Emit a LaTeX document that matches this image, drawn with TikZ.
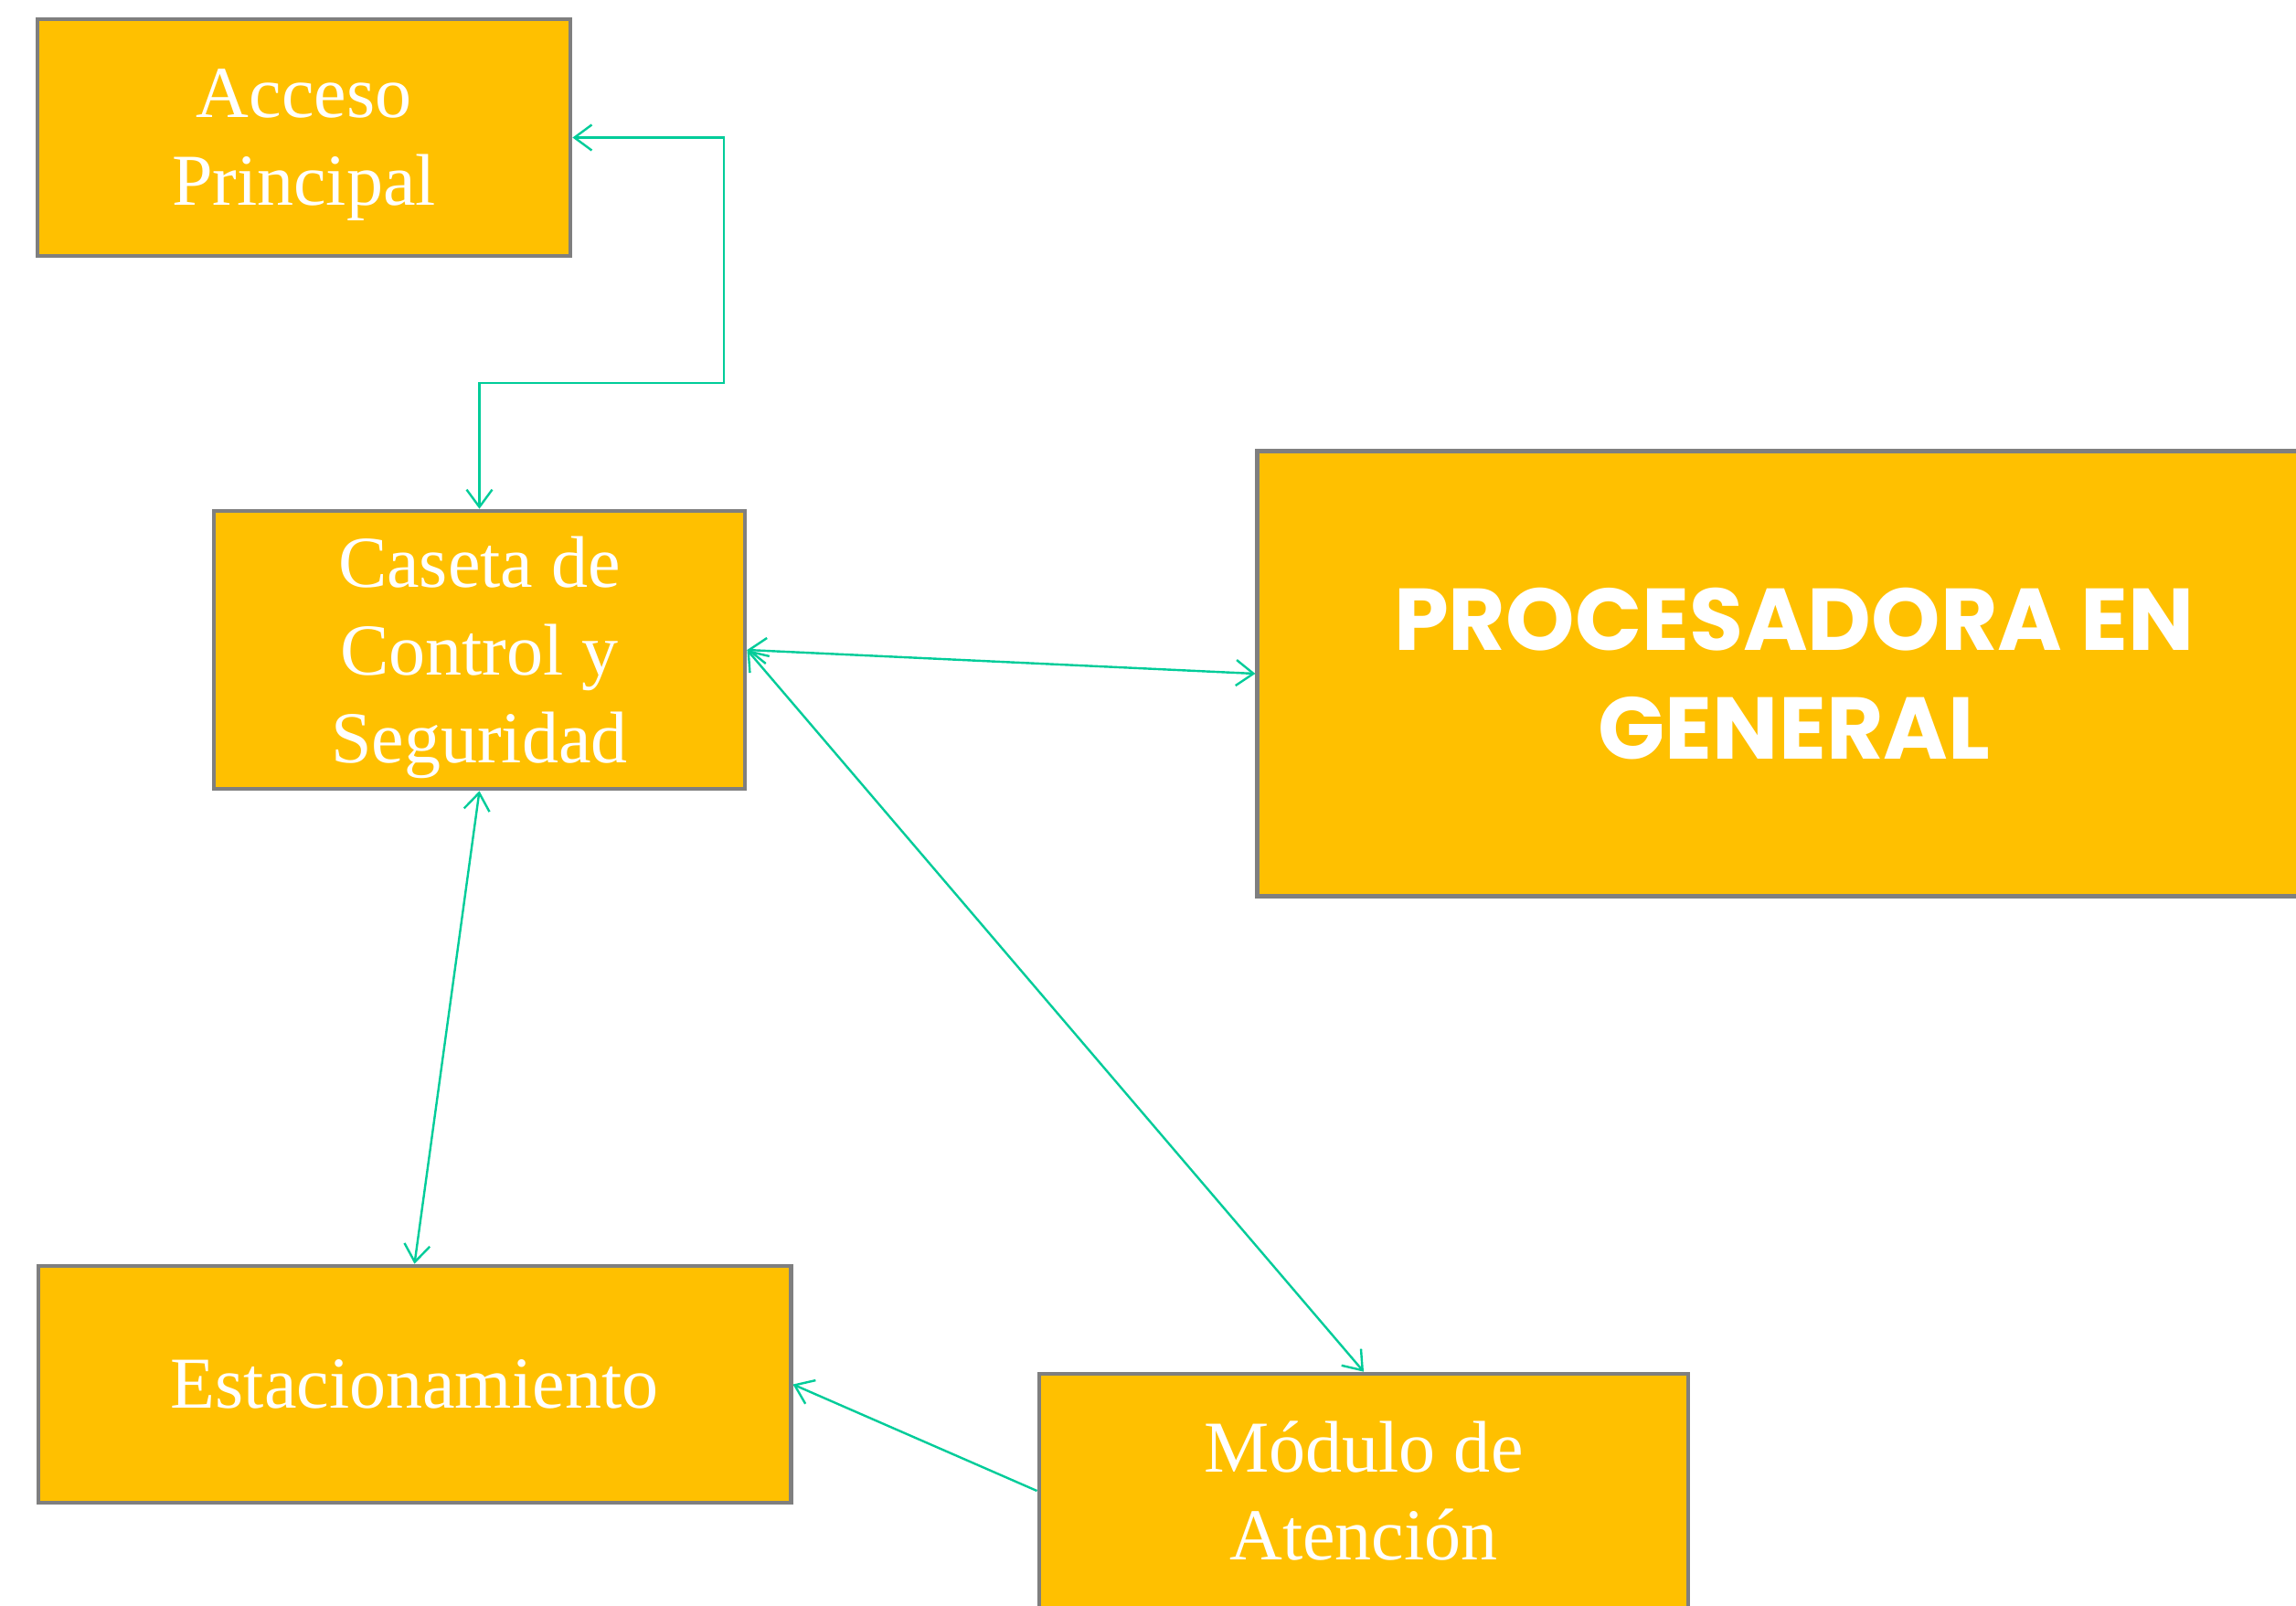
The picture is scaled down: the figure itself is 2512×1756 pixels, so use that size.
\documentclass[tikz,border=0pt]{standalone}
\usepackage{fontspec}
\setmainfont{Liberation Serif}
\newfontfamily\procfont{Poppins}
\usetikzlibrary{arrows.meta}
\definecolor{boxfill}{HTML}{FFC000}
\definecolor{boxline}{HTML}{7F7F7F}
\definecolor{conncol}{HTML}{00CC99}
\begin{document}
\begin{tikzpicture}[x=0.01cm,y=-0.01cm,
  box/.style={draw=boxline, line width=0.045cm, fill=boxfill, text=white, inner sep=0pt, align=center,
    font=\fontsize{22.76pt}{27.3pt}\selectfont},
  conn/.style={draw=conncol, line width=0.024cm,
    arrows={Straight Barb[length=0.19cm,width=0.28cm]-Straight Barb[length=0.19cm,width=0.28cm]}},
  connend/.style={draw=conncol, line width=0.024cm,
    arrows={-Straight Barb[length=0.19cm,width=0.28cm]}}]
\clip (0,0) rectangle (2512,1756);
\node[box, text depth=0pt, minimum width=5.83cm, minimum height=2.59cm] (acceso) at (332.5,150.5) {Acceso\\Principal};
\node[box, text depth=0pt, minimum width=5.81cm, minimum height=3.04cm] (caseta) at (524.5,711) {Caseta de\\Control y\\Seguridad};
\node[box, minimum width=11.74cm, minimum height=4.87cm,
  font=\procfont\bfseries\fontsize{27.3pt}{33.9pt}\selectfont] (proc) at (1963,737) {PROCESADORA EN\\GENERAL};
\node[box, minimum width=8.23cm, minimum height=2.59cm] (estac) at (453.5,1514.5) {Estacionamiento};
\node[box, minimum width=7.10cm, minimum height=2.56cm] (modulo) at (1492,1631) {Módulo de\\Atención};
\coordinate (elbow) at (792,419);
\draw[conn] (acceso.east) -| (elbow) -| (caseta.north);
\draw[conn] (caseta.east) -- (proc.west);
\draw[conn] (caseta.east) -- (modulo.north);
\draw[conn] (caseta.south) -- (estac.north);
\draw[connend] (modulo.west) -- (estac.east);
\end{tikzpicture}
\end{document}
